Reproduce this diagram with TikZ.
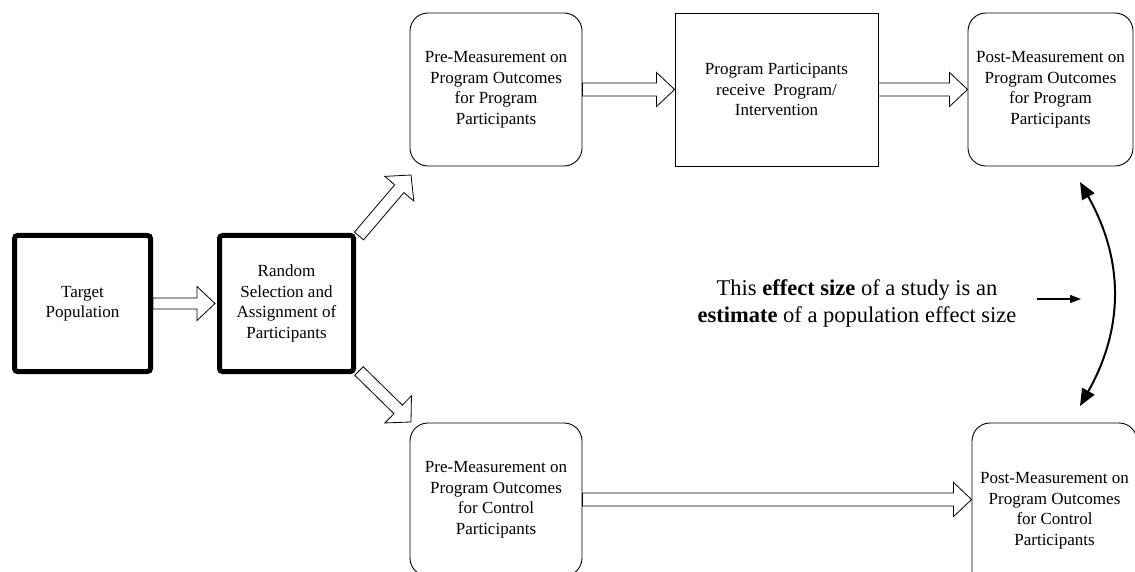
\documentclass[tikz,border=0pt]{standalone}
\usepackage{fontspec}
\setmainfont{Liberation Serif}
\usetikzlibrary{calc,arrows.meta}
\newcommand\blockarr[4]{%
  \coordinate (ba-h) at ($(#2)!18pt!(#1)$);
  \draw[blockline]
    ($(#1)!#3!90:(#2)$) -- ($(ba-h)!#3!90:(#2)$) -- ($(ba-h)!#4!90:(#2)$) -- (#2)
    -- ($(ba-h)!#4!-90:(#2)$) -- ($(ba-h)!#3!-90:(#2)$) -- ($(#1)!#3!-90:(#2)$) -- cycle;}
\tikzset{
  boxtext/.style={align=center, font=\fontsize{17}{20.5}\selectfont, inner sep=0pt},
  thickbox/.style={boxtext, draw, line width=5pt, rounded corners=3pt},
  roundbox/.style={boxtext, draw, line width=0.9pt, rounded corners=18pt},
  plainbox/.style={boxtext, draw, line width=0.9pt},
  blockline/.style={draw, fill=white, line width=0.8pt, line join=miter},
}
\begin{document}
\begin{tikzpicture}[x=1pt, y=-1pt]
\useasboundingbox (0,0) rectangle (1135,572);

\node[thickbox, minimum width=136pt, minimum height=136pt] (target) at (82.5,303.5) {Target\\Population};
\node[thickbox, minimum width=134pt, minimum height=136pt] (random) at (286.5,303.5) {Random\\Selection and\\Assignment of\\Participants};

\node[roundbox, minimum width=172pt, minimum height=153pt] (pre1) at (496,89.5) {Pre-Measurement on\\Program Outcomes\\for Program\\Participants};
\node[plainbox, minimum width=203pt, minimum height=153pt] (mid) at (776.5,89.5) {Program Participants\\receive~ Program/\\Intervention};
\node[roundbox, minimum width=165pt, minimum height=153pt] (post1) at (1050.5,89.5) {Post-Measurement on\\Program Outcomes\\for Program\\Participants};

\node[roundbox, minimum width=172pt, minimum height=153pt] (pre2) at (496,499.5) {Pre-Measurement on\\Program Outcomes\\for Control\\Participants};
\node[roundbox, minimum width=165pt, minimum height=175pt] (post2) at (1054.5,510.5) {Post-Measurement on\\Program Outcomes\\for Control\\Participants};

\node[align=center, font=\fontsize{22.5}{27}\selectfont, inner sep=0pt] (effect) at (857,303.5)
  {This \textbf{effect size} of a study is an\\\textbf{estimate} of a population effect size};

% block arrows
\coordinate (a1s) at (target.east);
\coordinate (a1e) at ([xshift=-2pt]random.west);
\blockarr{a1s}{a1e}{5.5pt}{17pt}

\coordinate (d1s) at (359,236);
\coordinate (d1e) at (411,175);
\blockarr{d1s}{d1e}{6pt}{19pt}
\coordinate (d2s) at (359,371);
\coordinate (d2e) at (411,422);
\blockarr{d2s}{d2e}{6pt}{19pt}

\coordinate (t1s) at (pre1.east);
\coordinate (t1e) at (mid.west);
\blockarr{t1s}{t1e}{6.5pt}{17pt}
\coordinate (t2s) at (mid.east);
\coordinate (t2e) at (post1.west);
\blockarr{t2s}{t2e}{6.5pt}{17pt}
\coordinate (b1s) at (pre2.east);
\coordinate (b1e) at (pre2.east -| post2.west);
\blockarr{b1s}{b1e}{6.5pt}{17pt}

% effect size arrows
\coordinate (c1) at (1080,182);
\coordinate (c2) at (1080,406);
\draw[line width=2pt, {Triangle[length=17pt,width=14pt]}-{Triangle[length=17pt,width=14pt]}]
  (c1) .. controls (1124,260) and (1124,328) .. (c2);
\coordinate (s1) at (1081,299);
\draw[line width=1.2pt, -{Triangle[length=11pt,width=8pt]}] ([xshift=-44pt]s1) -- (s1);
\end{tikzpicture}
\end{document}
